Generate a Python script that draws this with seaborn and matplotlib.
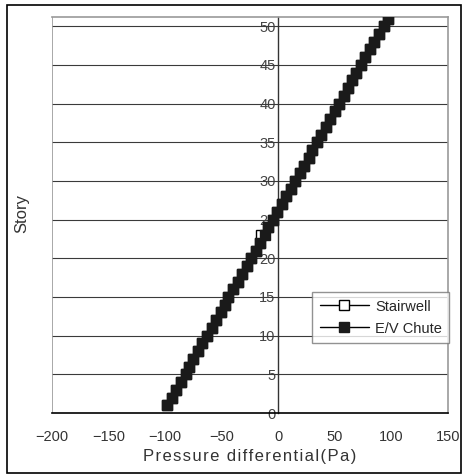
import matplotlib
matplotlib.use("Agg")
import matplotlib.pyplot as plt
import matplotlib.patches as patches
import seaborn as sns
import pandas as pd

# Story number (1..51) and pressure differential
stories = list(range(1, 52))
ev_chute = [-98, -94, -90, -86, -82, -79, -75, -71, -67, -63,
            -59, -55, -51, -47, -44, -40, -36, -32, -28, -24,
            -20, -16, -12, -9, -5, -1, 3, 7, 11, 15,
            19, 23, 27, 30, 34, 38, 42, 46, 50, 54,
            58, 62, 65, 69, 73, 77, 81, 85, 89, 93, 97]
# stairwell sits under the chute series; only one square peeks out (story 23)
stairwell = list(ev_chute)
stairwell[22] = -15

x_ticks = [-200, -150, -100, -50, 0, 50, 100, 150]
y_ticks = [0, 5, 10, 15, 20, 25, 30, 35, 40, 45, 50]

df = pd.DataFrame({
    "story": stories * 2,
    "pressure": stairwell + ev_chute,
    "series": ["Stairwell"] * len(stories) + ["E/V Chute"] * len(stories),
})

sns.set_style("white")
plt.rcParams["font.family"] = ["Liberation Sans", "DejaVu Sans"]

fig = plt.figure(figsize=(4.63, 4.75), dpi=100)
ax = fig.add_axes([0.1123, 0.1305, 0.8553, 0.8337])

# grid lines first so markers sit on top
for yv in y_ticks[1:]:
    ax.axhline(yv, color="#3a3a3a", lw=0.8, zorder=1)
ax.axvline(-200, color="#999999", lw=1.2, zorder=1)

sns.lineplot(data=df[df.series == "Stairwell"], x="pressure", y="story",
             sort=False, estimator=None, color="black", lw=1,
             marker="s", markersize=7.2, markerfacecolor="white",
             markeredgecolor="black", markeredgewidth=1,
             label="Stairwell", ax=ax, zorder=3)
sns.lineplot(data=df[df.series == "E/V Chute"], x="pressure", y="story",
             sort=False, estimator=None, color="black", lw=1,
             marker="s", markersize=7.2, markerfacecolor="#1a1a1a",
             markeredgecolor="#1a1a1a", markeredgewidth=1,
             label="E/V Chute", ax=ax, zorder=4)

ax.set_xlim(-200, 150)
ax.set_ylim(0, 51.2)
ax.set_xticks(x_ticks)
ax.set_yticks(y_ticks)
ax.set_xticklabels(["\u2212200", "\u2212150", "\u2212100", "\u221250", "0", "50", "100", "150"])

ax.spines["left"].set_position(("data", 0))
ax.spines["left"].set_color("#333333")
ax.spines["left"].set_linewidth(1)
ax.spines["bottom"].set_color("black")
ax.spines["bottom"].set_linewidth(1.2)
for s in ["top", "right"]:
    ax.spines[s].set_color("#999999")
    ax.spines[s].set_linewidth(1.2)

ax.tick_params(axis="x", direction="in", length=4, width=1, color="black",
               labelsize=10.5, pad=12, labelcolor="#333333")
ax.tick_params(axis="y", direction="in", length=5, width=1, color="#333333",
               labelsize=10.5, pad=2, labelcolor="#444444")

# wide letter spacing as in the original label
xlabel = "\u200a".join("Pressure differential(Pa)")
ax.set_xlabel(xlabel, fontsize=12, color="#333333", labelpad=4)
ax.set_ylabel("")
fig.text(0.048, 0.55, "Story", rotation=90, fontsize=12, color="#333333",
         ha="center", va="center")

leg = ax.legend(loc="upper right", bbox_to_anchor=(1.003, 0.305), fontsize=10.5,
                frameon=True, fancybox=False, handlelength=3.4, borderpad=0.5,
                labelspacing=0.55, handletextpad=0.4, borderaxespad=0)
leg.get_frame().set_edgecolor("#777777")
leg.get_frame().set_linewidth(1)
leg.set_zorder(10)

fig.patches.append(patches.Rectangle((0.0151, 0.0042), 0.9806, 0.9853,
                                     transform=fig.transFigure, fill=False,
                                     edgecolor="black", lw=1.2))

fig.savefig("out.png", dpi=100)
